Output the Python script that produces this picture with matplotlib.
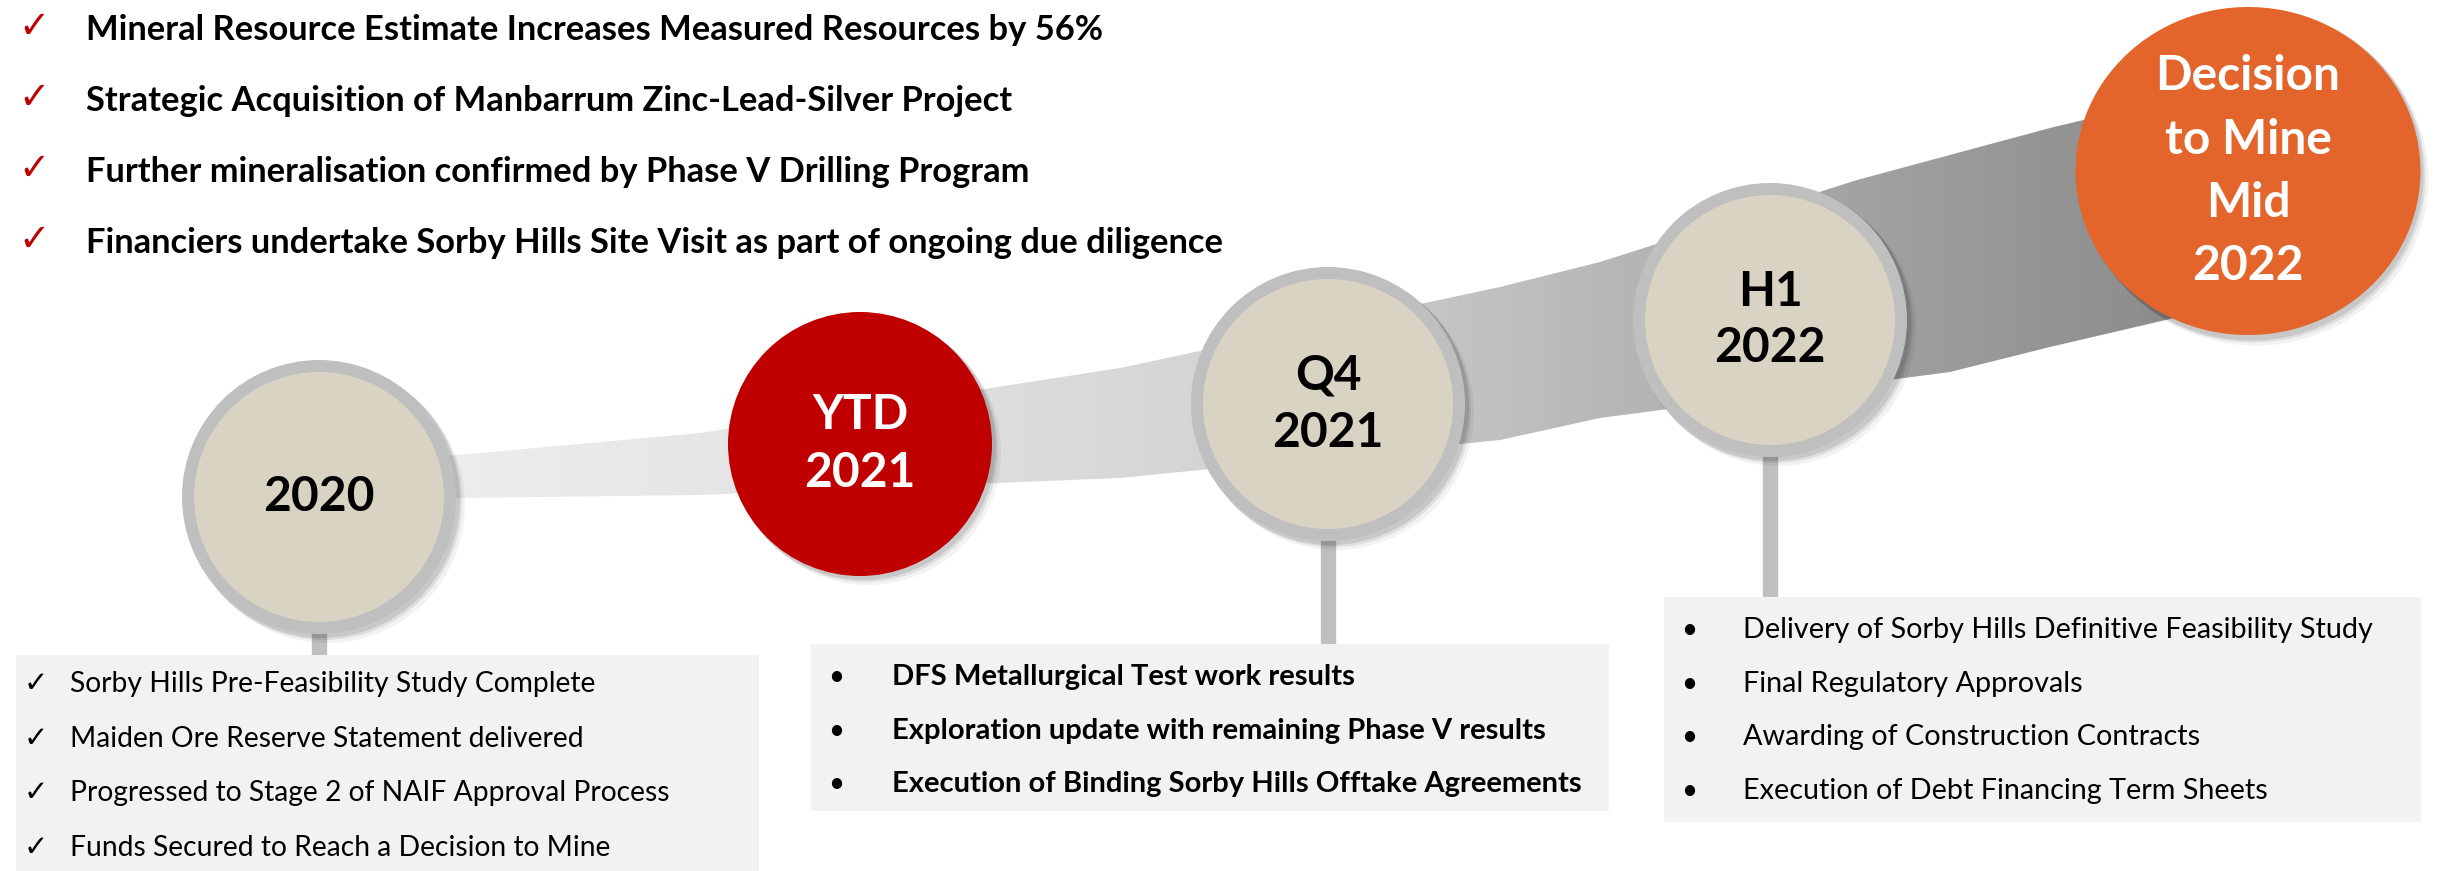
#Project timeline graphic: milestones on a widening ribbon
import matplotlib
matplotlib.use('Agg')
import matplotlib.pyplot as plt
import numpy as np
from matplotlib.patches import Circle, Ellipse, Rectangle, Polygon
from matplotlib.colors import LinearSegmentedColormap

#Data
#-----------------------------------------
highlights = ['Mineral Resource Estimate Increases Measured Resources by 56%',
              'Strategic Acquisition of Manbarrum Zinc-Lead-Silver Project',
              'Further mineralisation confirmed by Phase V Drilling Program',
              'Financiers undertake Sorby Hills Site Visit as part of ongoing due diligence']

milestones = [['2020'], ['YTD', '2021'], ['Q4', '2021'], ['H1', '2022'],
              ['Decision', 'to Mine', 'Mid', '2022']]

items_2020 = ['Sorby Hills Pre-Feasibility Study Complete',
              'Maiden Ore Reserve Statement delivered',
              'Progressed to Stage 2 of NAIF Approval Process',
              'Funds Secured to Reach a Decision to Mine']
items_q4 = ['DFS Metallurgical Test work results',
            'Exploration update with remaining Phase V results',
            'Execution of Binding Sorby Hills Offtake Agreements']
items_h1 = ['Delivery of Sorby Hills Definitive Feasibility Study',
            'Final Regulatory Approvals',
            'Awarding of Construction Contracts',
            'Execution of Debt Financing Term Sheets']

#Layout (pixel coordinates, origin top left)
#-----------------------------------------
W, H = 2445, 871
centers = [(319, 497), (860, 444), (1328, 404), (1770, 320), (2248, 171)]
radii = [137, 132, 137, 137, 170]
fills = ['#d9d3c4', '#c00000', '#d9d3c4', '#d9d3c4', '#e3652b']
txtcol = ['black', 'white', 'black', 'black', 'white']
ring = [True, False, True, True, False]
line_gap = [0, 58, 58, 56, 63]

ribbon_top = [(320, 462), (458, 455), (700, 433), (1120, 368), (1500, 287),
              (1600, 262), (1857, 180), (2050, 128), (2200, 92)]
ribbon_bot = [(2200, 312), (2050, 347), (1950, 372), (1600, 418), (1500, 440),
              (1120, 478), (700, 495), (458, 498), (320, 500)]

FONT = 'Lato'
GREY = '#bfbfbf'
BOXC = '#f2f2f2'

fig = plt.figure(figsize=(W / 100, H / 100), dpi=100)
ax = fig.add_axes([0, 0, 1, 1])
ax.set_xlim(0, W)
ax.set_ylim(H, 0)
ax.axis('off')

#Ribbon with horizontal grey gradient
cmap = LinearSegmentedColormap.from_list('rib', [(0, '#f0f0f0'), (0.3, '#e2e2e2'),
                                                  (0.5, '#d2d2d2'), (0.65, '#bdbdbd'),
                                                  (0.82, '#a2a2a2'), (1, '#8a8a8a')])
rib = Polygon(ribbon_top + ribbon_bot, closed=True, facecolor='none', edgecolor='none')
ax.add_patch(rib)
grad = np.linspace(0, 1, 512).reshape(1, -1)
im = ax.imshow(grad, cmap=cmap, extent=[320, 2200, 500, 90], aspect='auto', zorder=1)
im.set_clip_path(rib)
ax.set_xlim(0, W)
ax.set_ylim(H, 0)

#Stems
stem_w = 14
ax.add_patch(Rectangle((319 - stem_w / 2, 600), stem_w, 60, color=GREY, zorder=2))
ax.add_patch(Rectangle((1328 - stem_w / 2, 530), stem_w, 115, color=GREY, zorder=2))
ax.add_patch(Rectangle((1770 - stem_w / 2, 440), stem_w, 160, color=GREY, zorder=2))

#Circles
for (cx, cy), r, fc, tc, rg, gap, lab in zip(centers, radii, fills, txtcol, ring, line_gap, milestones):
    # soft drop shadow
    for k, a in [(8, 0.05), (5, 0.08), (3, 0.10)]:
        if r > 150:
            ax.add_patch(Ellipse((cx + k, cy + k), 2 * r + 5, 2 * r - 12 + 5, color='black', alpha=a, lw=0, zorder=3))
        else:
            ax.add_patch(Circle((cx + k, cy + k), r + 1, color='black', alpha=a, lw=0, zorder=3))
    if r > 150:
        ax.add_patch(Ellipse((cx, cy), 2 * r + 5, 2 * r - 12, color=fc, lw=0, zorder=4))
    elif rg:
        ax.add_patch(Circle((cx, cy), r, color=GREY, lw=0, zorder=4))
        ax.add_patch(Circle((cx, cy), r - 12, color=fc, lw=0, zorder=5))
    else:
        ax.add_patch(Circle((cx, cy), r, color=fc, lw=0, zorder=4))
    n = len(lab)
    for i, s in enumerate(lab):
        ax.text(cx, cy + (i - (n - 1) / 2) * gap, s, ha='center', va='center',
                fontsize=34.5, fontweight='bold', family=FONT, color=tc, zorder=6)

#Top highlights
for i, s in enumerate(highlights):
    y = 30 + i * 71
    ax.text(34, y - 2, '\u2713', ha='center', va='center', fontsize=27, color='#c00000',
            family='DejaVu Sans', zorder=6)
    ax.text(86, y, s, ha='left', va='center', fontsize=24.8, fontweight='bold',
            family=FONT, color='black', zorder=6)

#Boxes
ax.add_patch(Rectangle((16, 655), 743, 230, color=BOXC, lw=0, zorder=3))
ax.add_patch(Rectangle((811, 644), 798, 167, color=BOXC, lw=0, zorder=3))
ax.add_patch(Rectangle((1664, 597), 757, 225, color=BOXC, lw=0, zorder=3))

for i, s in enumerate(items_2020):
    y = 684 + i * 54.5
    ax.text(36, y, '\u2713', ha='center', va='center', fontsize=21, color='black',
            family='DejaVu Sans', zorder=6)
    ax.text(70, y, s, ha='left', va='center', fontsize=20.3, family=FONT, color='black', zorder=6)

for i, s in enumerate(items_q4):
    y = 677 + i * 53.5
    ax.text(836, y, '\u2022', ha='center', va='center', fontsize=20, color='black',
            family=FONT, zorder=6)
    ax.text(892, y, s, ha='left', va='center', fontsize=21, fontweight='bold',
            family=FONT, color='black', zorder=6)

for i, s in enumerate(items_h1):
    y = 630 + i * 53.7
    ax.text(1689, y, '\u2022', ha='center', va='center', fontsize=20, color='black',
            family=FONT, zorder=6)
    ax.text(1743, y, s, ha='left', va='center', fontsize=20.7, family=FONT, color='black', zorder=6)

fig.savefig('out.png', dpi=100, facecolor='white')
